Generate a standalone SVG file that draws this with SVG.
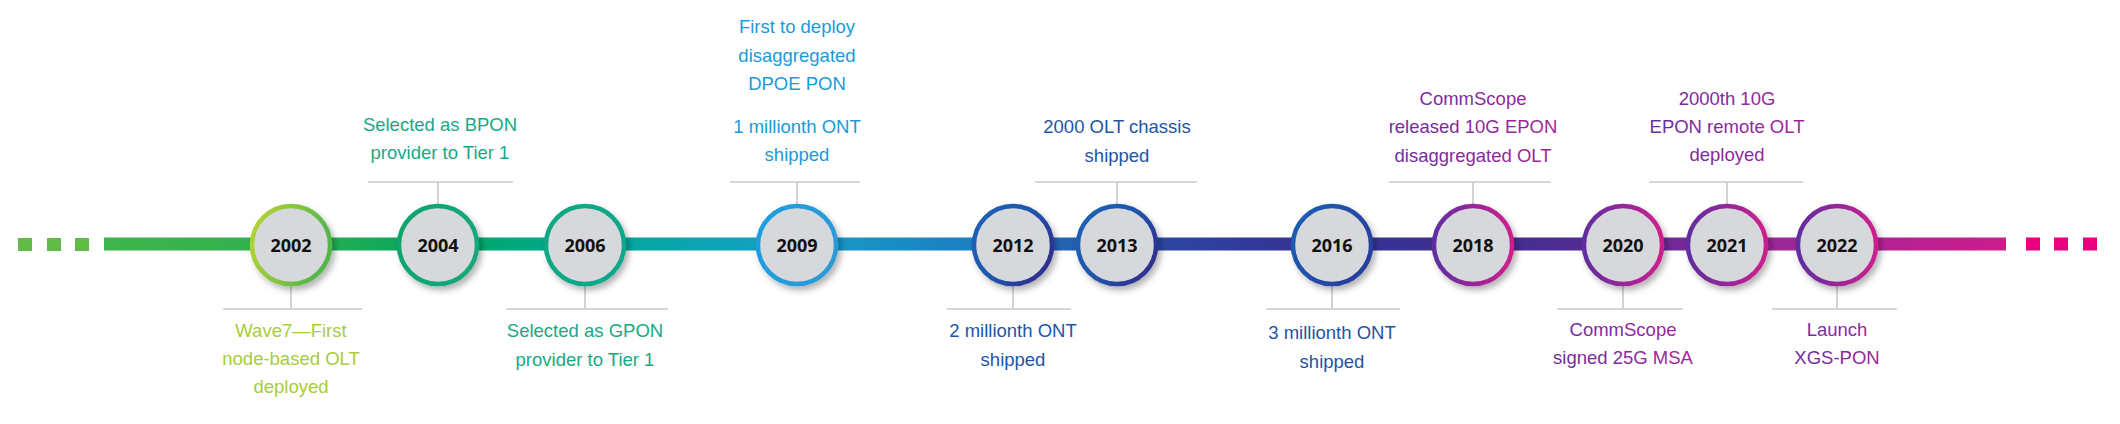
<svg xmlns="http://www.w3.org/2000/svg" width="2120" height="424" viewBox="0 0 2120 424">
<style>
.lbl{font-family:"Liberation Sans","Noto Sans",sans-serif;font-size:18.5px;text-anchor:middle}
.yr{font-family:"Open Sans","Liberation Sans",sans-serif;font-size:18px;font-weight:bold;text-anchor:middle;fill:#111}
.tick{stroke:#cacaca;stroke-width:1.6;fill:none}
.node{fill:#d6d8db;stroke-width:4.5}
.g1{fill:#a6cd3a}.g2{fill:#17a984}.b1{fill:#1c9ad7}.b2{fill:#1e55a5}.p1{fill:url(#tp)}
</style>
<defs>
<linearGradient id="bar" gradientUnits="userSpaceOnUse" x1="104" y1="0" x2="2006" y2="0">
<stop offset="0" stop-color="#3fb44c"/>
<stop offset="0.1" stop-color="#2fb050"/>
<stop offset="0.175" stop-color="#00a660"/>
<stop offset="0.255" stop-color="#00a995"/>
<stop offset="0.36" stop-color="#169fc8"/>
<stop offset="0.48" stop-color="#1d78c0"/>
<stop offset="0.53" stop-color="#2a4ea6"/>
<stop offset="0.62" stop-color="#343596"/>
<stop offset="0.72" stop-color="#3d2f90"/>
<stop offset="0.8" stop-color="#5a2c94"/>
<stop offset="0.86" stop-color="#92299a"/>
<stop offset="0.93" stop-color="#b22394"/>
<stop offset="1" stop-color="#cc1d8c"/>
</linearGradient>
<linearGradient id="tp" x1="0" y1="0" x2="1" y2="0">
<stop offset="0" stop-color="#6e2c9e"/>
<stop offset="1" stop-color="#a2269a"/>
</linearGradient>
<linearGradient id="s2002" x1="0" y1="0" x2="1" y2="0.3"><stop offset="0" stop-color="#bcd630"/><stop offset="1" stop-color="#52b64a"/></linearGradient>
<linearGradient id="s2004" x1="0" y1="0" x2="1" y2="0.3"><stop offset="0" stop-color="#0fa56a"/><stop offset="1" stop-color="#12a77c"/></linearGradient>
<linearGradient id="s2006" x1="0" y1="0" x2="1" y2="0.3"><stop offset="0" stop-color="#0ea884"/><stop offset="1" stop-color="#10a78a"/></linearGradient>
<linearGradient id="s2009" x1="0" y1="0" x2="1" y2="0.3"><stop offset="0" stop-color="#1a9fe0"/><stop offset="1" stop-color="#2a9ad8"/></linearGradient>
<linearGradient id="sblue" x1="0" y1="0" x2="1" y2="0.6"><stop offset="0" stop-color="#1b63b8"/><stop offset="0.55" stop-color="#1f56ac"/><stop offset="1" stop-color="#2e3192"/></linearGradient>
<linearGradient id="s2016" x1="0" y1="0" x2="1" y2="0.6"><stop offset="0" stop-color="#1b60b6"/><stop offset="1" stop-color="#283f9e"/></linearGradient>
<linearGradient id="spur" x1="0" y1="0" x2="1" y2="0"><stop offset="0" stop-color="#5f2ea0"/><stop offset="1" stop-color="#cd1f8e"/></linearGradient>
<filter id="sh" x="-30%" y="-30%" width="170%" height="170%">
<feDropShadow dx="3" dy="4" stdDeviation="3" flood-color="#000" flood-opacity="0.3"/>
</filter>
</defs>

<g id="connectors">
<rect x="18" y="238" width="14" height="13" fill="#62bb47"/>
<rect x="47" y="238" width="14" height="13" fill="#62bb47"/>
<rect x="75" y="238" width="14" height="13" fill="#62bb47"/>
<rect x="104" y="237.5" width="1902" height="13" fill="url(#bar)"/>
<rect x="2026" y="237.5" width="14" height="13" fill="#e9007f"/>
<rect x="2054" y="237.5" width="14" height="13" fill="#e9007f"/>
<rect x="2083" y="237.5" width="14" height="13" fill="#e9007f"/>
</g>

<g id="n2002">
<path class="tick" d="M291 286V309M223 309H362"/>
<circle class="node" cx="291" cy="245" r="39" stroke="url(#s2002)" filter="url(#sh)"/>
<text class="yr" x="291" y="252">2002</text>
<text class="lbl g1" x="291"><tspan x="291" y="337">Wave7—First</tspan><tspan x="291" y="365">node-based OLT</tspan><tspan x="291" y="393">deployed</tspan></text>
</g>

<g id="n2004">
<path class="tick" d="M438 182V204M368 182H513"/>
<circle class="node" cx="438" cy="245" r="39" stroke="url(#s2004)" filter="url(#sh)"/>
<text class="yr" x="438" y="252">2004</text>
<text class="lbl g2"><tspan x="440" y="131">Selected as BPON</tspan><tspan x="440" y="159">provider to Tier 1</tspan></text>
</g>

<g id="n2006">
<path class="tick" d="M585 286V309M506 309H668"/>
<circle class="node" cx="585" cy="245" r="39" stroke="url(#s2006)" filter="url(#sh)"/>
<text class="yr" x="585" y="252">2006</text>
<text class="lbl g2"><tspan x="585" y="337">Selected as GPON</tspan><tspan x="585" y="366">provider to Tier 1</tspan></text>
</g>

<g id="n2009">
<path class="tick" d="M797 182V204M730 182H860"/>
<circle class="node" cx="797" cy="245" r="39" stroke="url(#s2009)" filter="url(#sh)"/>
<text class="yr" x="797" y="252">2009</text>
<text class="lbl b1"><tspan x="797" y="33">First to deploy</tspan><tspan x="797" y="62">disaggregated</tspan><tspan x="797" y="90">DPOE PON</tspan><tspan x="797" y="133">1 millionth ONT</tspan><tspan x="797" y="161">shipped</tspan></text>
</g>

<g id="n2012">
<path class="tick" d="M1013 286V309M947 309H1071"/>
<circle class="node" cx="1013" cy="245" r="39" stroke="url(#sblue)" filter="url(#sh)"/>
<text class="yr" x="1013" y="252">2012</text>
<text class="lbl b2"><tspan x="1013" y="337">2 millionth ONT</tspan><tspan x="1013" y="366">shipped</tspan></text>
</g>

<g id="n2013">
<path class="tick" d="M1117 182V204M1035 182H1197"/>
<circle class="node" cx="1117" cy="245" r="39" stroke="url(#sblue)" filter="url(#sh)"/>
<text class="yr" x="1117" y="252">2013</text>
<text class="lbl b2"><tspan x="1117" y="133">2000 OLT chassis</tspan><tspan x="1117" y="162">shipped</tspan></text>
</g>

<g id="n2016">
<path class="tick" d="M1332 286V309M1266 309H1400"/>
<circle class="node" cx="1332" cy="245" r="39" stroke="url(#s2016)" filter="url(#sh)"/>
<text class="yr" x="1332" y="252">2016</text>
<text class="lbl b2"><tspan x="1332" y="339">3 millionth ONT</tspan><tspan x="1332" y="368">shipped</tspan></text>
</g>

<g id="n2018">
<path class="tick" d="M1473 182V204M1389 182H1551"/>
<circle class="node" cx="1473" cy="245" r="39" stroke="url(#spur)" filter="url(#sh)"/>
<text class="yr" x="1473" y="252">2018</text>
<text class="lbl p1"><tspan x="1473" y="105">CommScope</tspan><tspan x="1473" y="133">released 10G EPON</tspan><tspan x="1473" y="162">disaggregated OLT</tspan></text>
</g>

<g id="n2020">
<path class="tick" d="M1623 286V309M1557 309H1683"/>
<circle class="node" cx="1623" cy="245" r="39" stroke="url(#spur)" filter="url(#sh)"/>
<text class="yr" x="1623" y="252">2020</text>
<text class="lbl p1"><tspan x="1623" y="336">CommScope</tspan><tspan x="1623" y="364">signed 25G MSA</tspan></text>
</g>

<g id="n2021">
<path class="tick" d="M1727 182V204M1649 182H1803"/>
<circle class="node" cx="1727" cy="245" r="39" stroke="url(#spur)" filter="url(#sh)"/>
<text class="yr" x="1727" y="252">2021</text>
<text class="lbl p1"><tspan x="1727" y="105">2000th 10G</tspan><tspan x="1727" y="133">EPON remote OLT</tspan><tspan x="1727" y="161">deployed</tspan></text>
</g>

<g id="n2022">
<path class="tick" d="M1837 286V309M1772 309H1897"/>
<circle class="node" cx="1837" cy="245" r="39" stroke="url(#spur)" filter="url(#sh)"/>
<text class="yr" x="1837" y="252">2022</text>
<text class="lbl p1"><tspan x="1837" y="336">Launch</tspan><tspan x="1837" y="364">XGS-PON</tspan></text>
</g>
</svg>
